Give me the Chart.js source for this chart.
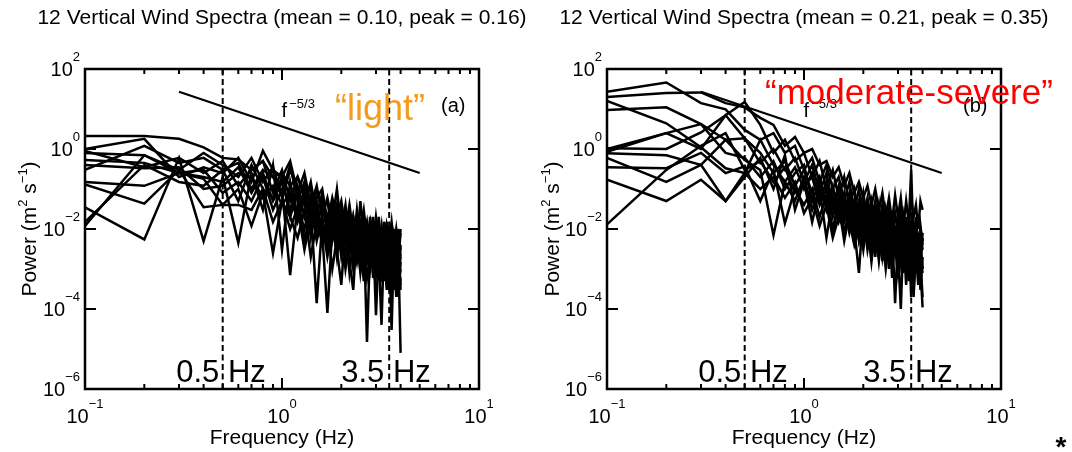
<!DOCTYPE html>
<html><head><meta charset="utf-8">
<script src="https://cdn.jsdelivr.net/npm/chart.js@4.4.0/dist/chart.umd.min.js"></script>
<style>
html,body{margin:0;padding:0;background:#fff;width:1072px;height:452px;overflow:hidden;}
canvas{position:absolute;top:0;}
#cL{left:0;} #cR{left:536px;}
</style></head><body>
<canvas id="cL" width="536" height="452"></canvas>
<canvas id="cR" width="536" height="452"></canvas>
<script>
// ---------- data ----------
const freqs = [0.1,0.2,0.3,0.4,0.5,0.6,0.7,0.8,0.9,1.0,1.1,1.2,1.3,1.4,1.5,1.6,1.7,1.8,1.9,2.0,
               2.1,2.2,2.3,2.4,2.5,2.6,2.7,2.8,2.9,3.0,3.1,3.2,3.3,3.4,3.5,3.6,3.7,3.8,3.9,4.0];

// panel (a): "light" turbulence, 12 spectra
const light01 = [2.1,2.1,1.8,1.1,0.6,0.55,0.3,0.5,0.2,0.25,0.12,0.2,0.06,0.1,0.03,0.05,0.02,0.04,0.012,0.03,0.008,0.02,0.006,0.015,0.004,0.01,0.003,0.012,0.002,0.008,0.004,0.012,0.002,0.006,0.0015,0.005,0.002,0.008,0.001,0.004];
const light02 = [1.0,1.8,0.2,0.35,0.25,0.6,0.15,0.9,0.3,0.2,0.5,0.08,0.25,0.04,0.12,0.02,0.06,0.015,0.1,0.01,0.04,0.005,0.02,0.004,0.05,0.006,0.015,0.003,0.01,0.004,0.02,0.002,0.009,0.003,0.012,0.002,0.007,0.003,0.01,0.002];
const light03 = [0.012,0.7,0.25,0.3,0.08,0.15,0.05,0.2,0.03,0.1,0.0007,0.04,0.01,0.05,0.005,0.02,0.003,0.015,0.004,0.02,0.002,0.008,0.001,0.006,0.002,0.01,0.000015,0.004,0.001,0.006,0.0008,0.003,0.0005,0.004,0.0004,0.002,0.0003,0.003,0.0006,0.002];
const light04 = [0.015,0.4,0.15,0.12,0.3,0.05,0.4,0.1,0.06,0.2,0.02,0.08,0.005,0.03,0.00014,0.015,0.006,0.03,0.003,0.0004,0.01,0.003,0.015,0.002,0.007,0.001,0.005,0.0015,0.008,0.00007,0.004,0.001,0.005,0.0008,0.003,0.00003,0.004,0.0006,0.002,0.000008];
const light05 = [0.035,0.0055,0.6,0.005,0.2,0.0045,0.25,0.03,0.4,0.003,0.15,0.02,0.1,0.006,0.05,0.008,0.00008,0.01,0.03,0.004,0.02,0.0015,0.0003,0.01,0.003,0.015,0.002,0.006,0.0008,0.01,0.002,0.00004,0.006,0.001,0.008,0.0015,0.005,0.0005,0.003,0.0003];
const light06 = [0.8,0.7,0.3,0.8,0.4,0.2,0.6,0.15,0.35,0.06,0.3,0.1,0.04,0.15,0.02,0.08,0.01,0.05,0.008,0.03,0.006,0.02,0.004,0.03,0.005,0.012,0.002,0.02,0.004,0.01,0.0015,0.008,0.003,0.015,0.002,0.006,0.001,0.005,0.002,0.008];
const light07 = [0.53,0.45,0.25,0.2,0.15,0.35,0.08,0.25,0.05,0.15,0.03,0.12,0.02,0.07,0.012,0.04,0.008,0.02,0.002,0.015,0.005,0.03,0.003,0.009,0.0012,0.006,0.003,0.01,0.0006,0.005,0.002,0.006,0.0008,0.004,0.0006,0.003,0.0012,0.004,0.0004,0.001];
const light08 = [0.4,0.33,0.35,0.1,0.12,0.25,0.2,0.06,0.12,0.04,0.08,0.015,0.06,0.01,0.025,0.004,0.02,0.005,0.015,0.002,0.008,0.012,0.002,0.006,0.0008,0.004,0.0015,0.007,0.0012,0.003,0.0005,0.004,0.001,0.0025,0.0003,0.002,0.0008,0.0015,0.0002,0.0015];
const light09 = [0.15,0.12,0.25,0.18,0.04,0.04,0.03,0.1,0.015,0.05,0.01,0.035,0.003,0.02,0.008,0.015,0.002,0.01,0.003,0.008,0.001,0.005,0.0015,0.004,0.001,0.003,0.0006,0.002,0.003,0.0008,0.003,0.0005,0.002,0.0004,0.0015,0.0005,0.002,0.0003,0.0012,0.0005];
const light10 = [0.13,0.043,0.3,0.035,0.04,0.1,0.012,0.08,0.0025,0.05,0.02,0.006,0.03,0.002,0.015,0.005,0.012,0.001,0.006,0.003,0.01,0.0008,0.005,0.0015,0.006,0.0005,0.004,0.001,0.005,0.0006,0.003,0.0008,0.0035,0.0003,0.002,0.0007,0.003,0.0002,0.0015,0.0004];
const light11 = [0.9,0.35,0.6,0.25,0.5,0.12,0.3,0.5,0.08,0.3,0.05,0.2,0.08,0.02,0.1,0.03,0.05,0.008,0.04,0.012,0.025,0.004,0.02,0.008,0.015,0.003,0.012,0.005,0.02,0.002,0.01,0.004,0.015,0.002,0.007,0.003,0.01,0.0015,0.006,0.003];
const light12 = [0.3,1.2,0.45,0.6,0.3,0.45,0.1,0.3,0.2,0.08,0.4,0.05,0.15,0.03,0.06,0.1,0.015,0.06,0.02,0.05,0.01,0.04,0.008,0.02,0.01,0.03,0.006,0.015,0.004,0.02,0.006,0.01,0.003,0.012,0.005,0.015,0.004,0.01,0.003,0.01];

// panel (b): "moderate-severe" turbulence, 12 spectra
const severe01 = [20,25,26,14,11,6,4,1.2,2,0.8,1.0,0.4,0.5,0.2,0.35,0.12,0.25,0.08,0.15,0.06,0.12,0.04,0.1,0.03,0.08,0.02,0.06,0.015,0.07,0.02,0.06,0.012,0.05,0.015,0.06,0.02,0.04,0.01,0.05,0.03];
const severe02 = [27,46,14,9.8,3,1.7,2.5,0.8,1.2,0.3,0.6,0.15,0.4,0.1,0.2,0.05,0.15,0.03,0.1,0.02,0.06,0.015,0.05,0.008,0.04,0.01,0.03,0.006,0.025,0.008,0.03,0.005,0.02,0.004,0.015,0.006,0.02,0.003,0.01,0.005];
const severe03 = [1.05,1.0,2.6,7,15,4,0.8,1.7,0.5,0.8,0.2,0.5,0.1,0.3,0.06,0.2,0.04,0.1,0.02,0.08,0.015,0.05,0.01,0.04,0.006,0.03,0.008,0.02,0.004,0.015,0.006,0.02,0.003,0.012,0.3,0.004,0.01,0.002,0.008,0.003];
const severe04 = [9.4,11,4.2,1.7,1.85,0.45,1.0,0.3,0.6,0.15,0.4,0.08,0.25,0.04,0.12,0.03,0.08,0.015,0.05,0.01,0.04,0.005,0.03,0.01,0.02,0.004,0.015,0.0006,0.012,0.003,0.0001,0.008,0.002,0.01,0.0002,0.006,0.002,0.008,0.001,0.00011];
const severe05 = [16,4.4,1.1,0.33,0.25,1.7,0.4,0.15,0.35,0.1,0.25,0.05,0.15,0.03,0.1,0.02,0.06,0.01,0.0008,0.03,0.008,0.025,0.005,0.02,0.0016,0.012,0.004,0.015,0.002,0.01,0.003,0.012,0.0015,0.006,0.002,0.008,0.001,0.005,0.0015,0.006];
const severe06 = [0.85,2.5,1.0,7,1.85,0.8,0.25,0.5,0.12,0.3,0.08,0.2,0.04,0.1,0.03,0.06,0.01,0.04,0.015,0.003,0.02,0.006,0.015,0.002,0.01,0.003,0.012,0.002,0.008,0.0006,0.006,0.002,0.008,0.001,0.005,0.0003,0.004,0.0012,0.005,0.001];
const severe07 = [0.78,0.7,0.4,1.7,0.53,0.3,0.007,0.15,0.05,0.2,0.03,0.1,0.006,0.06,0.015,0.04,0.008,0.025,0.005,0.02,0.003,0.012,0.004,0.015,0.002,0.008,0.003,0.01,0.00014,0.006,0.002,0.007,0.001,0.005,0.0015,0.006,0.0008,0.004,0.0003,0.002];
const severe08 = [0.35,0.33,0.8,0.25,0.37,0.05,0.3,0.014,0.1,0.04,0.1,0.02,0.07,0.01,0.05,0.008,0.03,0.012,0.02,0.005,0.015,0.003,0.012,0.0016,0.01,0.004,0.008,0.001,0.006,0.002,0.005,0.0008,0.004,0.0015,0.004,0.0005,0.003,0.001,0.002,0.0008];
const severe09 = [0.17,0.05,0.17,0.05,0.25,0.1,0.2,0.06,0.15,0.025,0.06,0.012,0.04,0.006,0.02,0.01,0.015,0.004,0.012,0.006,0.01,0.002,0.008,0.003,0.006,0.001,0.005,0.002,0.004,0.0008,0.003,0.0012,0.003,0.0005,0.002,0.001,0.0025,0.0004,0.0015,0.0002];
const severe10 = [0.013,0.3,1.2,2.5,0.3,0.5,0.15,0.35,0.08,0.12,0.2,0.04,0.1,0.02,0.06,0.015,0.04,0.006,0.03,0.01,0.025,0.008,0.02,0.004,0.015,0.006,0.02,0.003,0.01,0.004,0.012,0.002,0.01,0.003,0.008,0.002,0.006,0.003,0.012,0.004];
const severe11 = [1.0,2.5,4.2,0.8,0.6,0.2,0.5,0.1,0.25,0.4,0.05,0.15,0.03,0.12,0.02,0.08,0.012,0.05,0.006,0.04,0.006,0.03,0.002,0.02,0.005,0.015,0.001,0.012,0.003,0.009,0.0015,0.006,0.0004,0.007,0.003,0.009,0.0012,0.006,0.002,0.008];
const severe12 = [0.6,0.15,0.4,0.05,0.2,0.6,0.1,0.7,0.03,0.15,0.015,0.1,0.05,0.008,0.04,0.005,0.025,0.01,0.015,0.004,0.012,0.0015,0.01,0.005,0.008,0.0018,0.006,0.002,0.005,0.001,0.004,0.0015,0.003,0.0006,0.004,0.0002,0.003,0.0008,0.002,0.001];

const lightSeries  = [light01,light02,light03,light04,light05,light06,light07,light08,light09,light10,light11,light12];
const severeSeries = [severe01,severe02,severe03,severe04,severe05,severe06,severe07,severe08,severe09,severe10,severe11,severe12];

const markerFreqs  = [0.5, 3.5];
const markerLabels = ['0.5 Hz', '3.5 Hz'];
const slopeFreqs   = [0.3, 5];
const slopePower   = [27, 0.25];
const freqRange    = [0.1, 10];
const powerRange   = [1e-6, 1e2];
const xTickExps    = [-1, 0, 1];
const yTickExps    = [2, 0, -2, -4, -6];
const xMinorDecades = [0.1, 1];
const minorMultipliers = [2,3,4,5,6,7,8,9];
const xMajorInner  = [1];
const yMajorInner  = [1, 1e-2, 1e-4];
const panelTitles  = ['12 Vertical Wind Spectra (mean = 0.10, peak = 0.16)',
                      '12 Vertical Wind Spectra (mean = 0.21, peak = 0.35)'];

// ---------- drawing helpers ----------
const FAM = '"Liberation Sans", Arial, Helvetica, sans-serif';
const font = (sz, bold) => (bold ? 'bold ' : '') + sz + 'px ' + FAM;

function drawRich(ctx, parts, x, y, align) {
  let total = 0;
  parts.forEach(p => { ctx.font = font(p.size); p.w = ctx.measureText(p.t).width; total += p.w; });
  let cx = align === 'center' ? x - total / 2 : (align === 'right' ? x - total : x);
  ctx.textAlign = 'left'; ctx.textBaseline = 'alphabetic';
  parts.forEach(p => { ctx.font = font(p.size); ctx.fillText(p.t, cx, y - (p.raise || 0)); cx += p.w; });
}
function drawPow(ctx, exp, x, y, align) {
  const sup = exp < 0 ? '\u2212' + (-exp) : String(exp);
  drawRich(ctx, [{t:'10', size:20}, {t:sup, size:13, raise:15}], x, y, align);
}

function makeDecor(cfg) {
  return {
    id: 'decor',
    afterDraw(chart) {
      const ctx = chart.ctx, a = chart.chartArea, xs = chart.scales.x, ys = chart.scales.y;
      ctx.save();
      ctx.fillStyle = '#000'; ctx.strokeStyle = '#000';
      // inward ticks
      ctx.lineWidth = 2;
      ctx.beginPath();
      xMinorDecades.forEach(d => minorMultipliers.forEach(m => {
        const px = xs.getPixelForValue(m * d);
        ctx.moveTo(px, a.bottom); ctx.lineTo(px, a.bottom - 5);
        ctx.moveTo(px, a.top); ctx.lineTo(px, a.top + 5);
      }));
      xMajorInner.forEach(v => {
        const px = xs.getPixelForValue(v);
        ctx.moveTo(px, a.bottom); ctx.lineTo(px, a.bottom - 11);
        ctx.moveTo(px, a.top); ctx.lineTo(px, a.top + 11);
      });
      yMajorInner.forEach(v => {
        const py = ys.getPixelForValue(v);
        ctx.moveTo(a.left, py); ctx.lineTo(a.left + 11, py);
        ctx.moveTo(a.right, py); ctx.lineTo(a.right - 11, py);
      });
      ctx.stroke();
      // frame
      ctx.lineWidth = 2.5;
      ctx.strokeRect(a.left, a.top, a.right - a.left, a.bottom - a.top);
      // tick labels
      xTickExps.forEach(e => drawPow(ctx, e, xs.getPixelForValue(Math.pow(10, e)), 423, 'center'));
      yTickExps.forEach(e => drawPow(ctx, e, a.left - 5, ys.getPixelForValue(Math.pow(10, e)) + 6.5, 'right'));
      // title
      ctx.font = font(21); ctx.textAlign = 'center'; ctx.textBaseline = 'alphabetic';
      ctx.fillText(cfg.title, (a.left + a.right) / 2, 24);
      // axis titles
      ctx.fillText('Frequency (Hz)', (a.left + a.right) / 2, 444);
      ctx.save();
      ctx.translate(a.left - cfg.ylabOff, (a.top + a.bottom) / 2);
      ctx.rotate(-Math.PI / 2);
      drawRich(ctx, [{t:'Power (m', size:21}, {t:'2', size:13, raise:9}, {t:' s', size:21},
                     {t:'\u22121', size:13, raise:9}, {t:')', size:21}], 0, 0, 'center');
      ctx.restore();
      // marker labels
      const offs = [-46.5, -48];
      markerFreqs.forEach((f, k) => {
        ctx.font = font(31); ctx.textAlign = 'left';
        ctx.fillText(markerLabels[k], xs.getPixelForValue(f) + offs[k], 382);
      });
      // f^-5/3 label
      drawRich(ctx, [{t:'f', size:20}, {t:' ', size:8}, {t:'\u22125/3', size:13, raise:8.5}], a.left + 196.5, 116.5, 'left');
      // panel letter
      ctx.font = font(20); ctx.textAlign = 'left';
      ctx.fillText(cfg.letter, a.left + 356, 112);
      // turbulence tag
      ctx.font = font(cfg.tagSize); ctx.fillStyle = cfg.tagColor; ctx.textAlign = 'left';
      ctx.fillText(cfg.tag, a.left + cfg.tagX, cfg.tagY);
      if (cfg.star) {
        ctx.fillStyle = '#000'; ctx.font = font(28, true); ctx.textAlign = 'center';
        ctx.fillText('*', cfg.star, 456);
      }
      ctx.restore();
    }
  };
}

function makePanel(id, series, cfg) {
  const datasets = series.map(s => ({
    data: freqs.map((f, i) => ({x: f, y: s[i]})),
    borderColor: '#000', borderWidth: 2.5, pointRadius: 0, showLine: true, fill: false,
    tension: 0, borderJoinStyle: 'miter'
  }));
  markerFreqs.forEach(f => datasets.push({
    data: [{x: f, y: powerRange[0]}, {x: f, y: powerRange[1]}],
    borderColor: '#000', borderWidth: 2, borderDash: [6, 3.5], pointRadius: 0, showLine: true
  }));
  datasets.push({
    data: slopeFreqs.map((f, i) => ({x: f, y: slopePower[i]})),
    borderColor: '#000', borderWidth: 2.2, pointRadius: 0, showLine: true
  });
  return new Chart(document.getElementById(id), {
    type: 'scatter',
    data: {datasets},
    options: {
      responsive: false, animation: false, devicePixelRatio: 1, events: [],
      layout: {padding: cfg.padding},
      plugins: {legend: {display: false}, tooltip: {enabled: false}, title: {display: false}},
      scales: {
        x: {type: 'logarithmic', min: freqRange[0], max: freqRange[1], display: false},
        y: {type: 'logarithmic', min: powerRange[0], max: powerRange[1], display: false}
      }
    },
    plugins: [makeDecor(cfg)]
  });
}

makePanel('cL', lightSeries, {
  padding: {left: 85, right: 57, top: 69, bottom: 63},
  title: panelTitles[0], letter: '(a)', ylabOff: 49,
  tag: '\u201Clight\u201D', tagColor: '#F59B1C', tagSize: 36, tagX: 250, tagY: 120
});
makePanel('cR', severeSeries, {
  padding: {left: 71, right: 71, top: 69, bottom: 63},
  title: panelTitles[1], letter: '(b)', ylabOff: 48,
  tag: '\u201Cmoderate-severe\u201D', tagColor: '#FF0000', tagSize: 35, tagX: 158, tagY: 103.5,
  star: 525
});
</script>
</body></html>
